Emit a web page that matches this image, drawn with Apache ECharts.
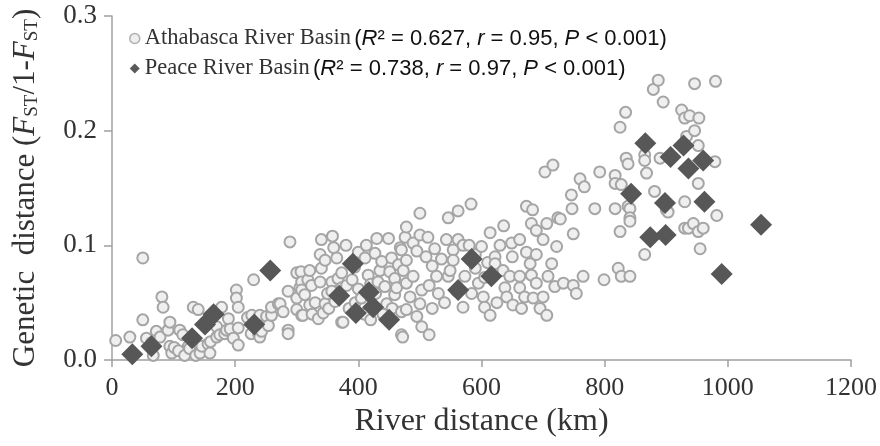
<!DOCTYPE html>
<html>
<head>
<meta charset="utf-8">
<script src="https://cdn.jsdelivr.net/npm/echarts@6/dist/echarts.min.js"></script>
<style>html,body{margin:0;padding:0;background:#fff}#c{width:880px;height:446px}</style>
</head>
<body>
<div id="c"></div>
<script>
// River distance (km), genetic distance FST/(1-FST)
var athabascaPoints = [
[6,0.017],[29,0.020],[50,0.089],[50,0.035],[56,0.019],[64,0.015],[67,0.004],[72,0.025],[81,0.055],[83,0.046],
[78,0.020],[91,0.026],[94,0.012],[94,0.033],[97,0.006],[101,0.011],[110,0.026],[115,0.022],[119,0.008],[124,0.012],
[108,0.008],[118,0.004],[126,0.010],[132,0.046],[136,0.004],[140,0.044],[143,0.006],[146,0.012],[156,0.014],[159,0.006],
[160,0.016],[170,0.020],[170,0.029],[175,0.022],[178,0.046],[183,0.023],[186,0.026],[189,0.036],[192,0.027],[197,0.019],
[202,0.061],[202,0.054],[205,0.046],[205,0.028],[205,0.013],[220,0.037],[226,0.023],[227,0.039],[230,0.070],[238,0.023],
[240,0.039],[240,0.020],[243,0.025],[251,0.038],[254,0.030],[259,0.039],[259,0.046],[270,0.049],[273,0.049],[278,0.042],
[289,0.103],[286,0.060],[286,0.026],[286,0.023],[300,0.076],[300,0.054],[300,0.044],[305,0.063],[307,0.077],[308,0.068],
[308,0.061],[308,0.039],[310,0.039],[313,0.057],[318,0.070],[321,0.078],[321,0.048],[324,0.065],[325,0.040],[330,0.050],
[335,0.036],[338,0.092],[338,0.068],[340,0.105],[340,0.080],[343,0.041],[346,0.087],[346,0.049],[350,0.058],[352,0.045],
[357,0.068],[357,0.060],[358,0.108],[360,0.098],[362,0.051],[365,0.089],[367,0.071],[373,0.076],[373,0.063],[373,0.033],
[375,0.033],[380,0.100],[381,0.065],[385,0.045],[390,0.070],[394,0.081],[395,0.050],[400,0.094],[400,0.062],[405,0.054],
[410,0.040],[411,0.089],[413,0.100],[416,0.074],[420,0.066],[420,0.035],[427,0.093],[428,0.058],[430,0.106],[432,0.068],
[435,0.078],[438,0.086],[440,0.040],[443,0.064],[446,0.049],[449,0.106],[451,0.077],[454,0.089],[455,0.045],[459,0.071],
[459,0.057],[462,0.063],[465,0.083],[468,0.098],[470,0.096],[470,0.042],[470,0.022],[472,0.020],[473,0.078],[476,0.107],
[478,0.116],[478,0.087],[478,0.067],[478,0.044],[484,0.055],[489,0.102],[489,0.073],[495,0.095],[495,0.038],[500,0.128],
[500,0.109],[500,0.049],[503,0.061],[503,0.029],[510,0.090],[513,0.107],[515,0.065],[515,0.022],[520,0.082],[520,0.045],
[524,0.097],[527,0.073],[530,0.058],[535,0.088],[540,0.050],[543,0.105],[546,0.124],[546,0.073],[549,0.078],[554,0.096],
[554,0.087],[560,0.060],[562,0.130],[562,0.105],[570,0.100],[570,0.046],[573,0.073],[580,0.100],[583,0.136],[584,0.058],
[590,0.092],[590,0.080],[595,0.067],[600,0.099],[603,0.055],[605,0.072],[605,0.046],[610,0.085],[614,0.111],[614,0.039],
[622,0.090],[622,0.084],[625,0.050],[630,0.100],[635,0.078],[636,0.117],[638,0.063],[641,0.055],[646,0.073],[649,0.102],
[650,0.090],[651,0.048],[662,0.105],[662,0.073],[662,0.063],[665,0.045],[670,0.055],[673,0.134],[673,0.094],[679,0.084],
[681,0.119],[681,0.074],[683,0.131],[684,0.054],[689,0.113],[689,0.092],[689,0.067],[695,0.045],[700,0.105],[700,0.055],
[703,0.164],[706,0.119],[706,0.039],[708,0.073],[714,0.084],[716,0.170],[719,0.064],[722,0.099],[724,0.124],[728,0.123],
[733,0.067],[746,0.144],[747,0.132],[749,0.110],[749,0.065],[754,0.058],[760,0.158],[765,0.073],[767,0.151],[784,0.132],
[792,0.164],[799,0.070],[817,0.161],[817,0.154],[817,0.132],[822,0.080],[825,0.203],[825,0.112],[827,0.153],[827,0.073],
[834,0.216],[835,0.176],[838,0.171],[838,0.134],[841,0.132],[841,0.124],[841,0.121],[841,0.073],[865,0.179],[865,0.174],
[865,0.092],[868,0.163],[879,0.236],[881,0.147],[887,0.244],[890,0.176],[895,0.225],[900,0.131],[903,0.129],[925,0.218],
[930,0.211],[930,0.138],[930,0.115],[933,0.195],[936,0.115],[938,0.213],[944,0.119],[946,0.241],[946,0.200],[952,0.187],
[952,0.154],[952,0.112],[953,0.211],[955,0.097],[960,0.115],[979,0.173],[980,0.243],[982,0.126]
];
var peacePoints = [
[33,0.005],[64,0.012],[130,0.019],[151,0.031],[165,0.040],[231,0.031],[257,0.078],[369,0.056],[391,0.084],[396,0.041],
[417,0.059],[424,0.046],[450,0.035],[562,0.061],[584,0.088],[616,0.073],[843,0.145],[866,0.189],[874,0.107],[898,0.137],
[899,0.109],[907,0.177],[928,0.187],[936,0.167],[960,0.174],[962,0.138],[990,0.075],[1054,0.118]
];
var seriesNames = ['Athabasca River Basin', 'Peace River Basin'];
var seriesR2 = ['0.627', '0.738'];
var seriesR = ['0.95', '0.97'];
var seriesP = ['0.001', '0.001'];
var xTicks = [0, 200, 400, 600, 800, 1000, 1200];
var yTicks = [0.0, 0.1, 0.2, 0.3];

var chart = echarts.init(document.getElementById('c'), null, {renderer: 'canvas'});
var serif = '"Liberation Serif", "Times New Roman", serif';
var sans = '"Liberation Sans Narrow", "Liberation Sans", Arial, sans-serif';
var axisColor = '#a0a0a0';
var textColor = '#333333';

chart.setOption({
  animation: false,
  backgroundColor: '#ffffff',
  grid: {left: 112, right: 29, top: 16, bottom: 86, containLabel: false},
  legend: {
    orient: 'vertical', left: 124, top: 22, itemGap: 7,
    itemWidth: 10, itemHeight: 10,
    data: [
      {name: seriesNames[0], icon: 'circle', itemStyle: {color: '#eeeeee', borderColor: '#b0b0b0', borderWidth: 1.5}},
      {name: seriesNames[1], icon: 'diamond', itemStyle: {color: '#5a5a5a'}}
    ],
    formatter: function (name) {
      var i = seriesNames.indexOf(name);
      return '{n|' + name + '} {s|(}{i|R}{s|\u00b2 = ' + seriesR2[i] + ', }{i|r}{s| = ' + seriesR[i] + ', }{i|P}{s| < ' + seriesP[i] + ')}';
    },
    textStyle: {
      color: textColor,
      rich: {
        n: {fontFamily: serif, fontSize: 22.5, color: textColor},
        s: {fontFamily: sans, fontSize: 22, color: '#111'},
        i: {fontFamily: sans, fontSize: 22, fontStyle: 'italic', color: '#111'}
      }
    }
  },
  xAxis: {
    type: 'value', min: 0, max: 1200, interval: 200,
    name: 'River distance (km)', nameLocation: 'middle', nameGap: 46,
    nameTextStyle: {fontFamily: serif, fontSize: 32, color: textColor},
    axisLine: {show: true, lineStyle: {color: axisColor, width: 1.5}},
    axisTick: {show: true, length: 7, inside: false, lineStyle: {color: axisColor, width: 1.5}},
    axisLabel: {fontFamily: serif, fontSize: 26, color: textColor, margin: 15,
      formatter: function (v) { return xTicks.indexOf(v) >= 0 ? String(v) : ''; }},
    splitLine: {show: false}
  },
  yAxis: {
    type: 'value', min: 0, max: 0.3, interval: 0.1,
    name: '{t|Genetic  distance (}{i|F}{b|ST}{t|/1-}{i|F}{b|ST}{t|)}',
    nameLocation: 'middle', nameGap: 70, nameRotate: 90,
    nameTextStyle: {
      rich: {
        t: {fontFamily: serif, fontSize: 31, color: textColor},
        i: {fontFamily: serif, fontSize: 31, fontStyle: 'italic', color: textColor},
        b: {fontFamily: serif, fontSize: 19, color: textColor, padding: [13, 0, 0, 0]}
      }
    },
    axisLine: {show: true, lineStyle: {color: axisColor, width: 1.5}},
    axisTick: {show: true, length: 8, lineStyle: {color: axisColor, width: 1.5}},
    axisLabel: {fontFamily: serif, fontSize: 27, color: textColor, margin: 15,
      formatter: function (v) { return v.toFixed(1); }},
    splitLine: {show: false}
  },
  series: [
    {
      name: seriesNames[0], type: 'scatter', data: athabascaPoints,
      symbol: 'circle', symbolSize: 11,
      itemStyle: {color: '#efefef', borderColor: '#a5a5a5', borderWidth: 2, opacity: 1}
    },
    {
      name: seriesNames[1], type: 'scatter', data: peacePoints,
      symbol: 'diamond', symbolSize: 22,
      itemStyle: {color: '#575757', opacity: 1}
    }
  ]
});
</script>
</body>
</html>
